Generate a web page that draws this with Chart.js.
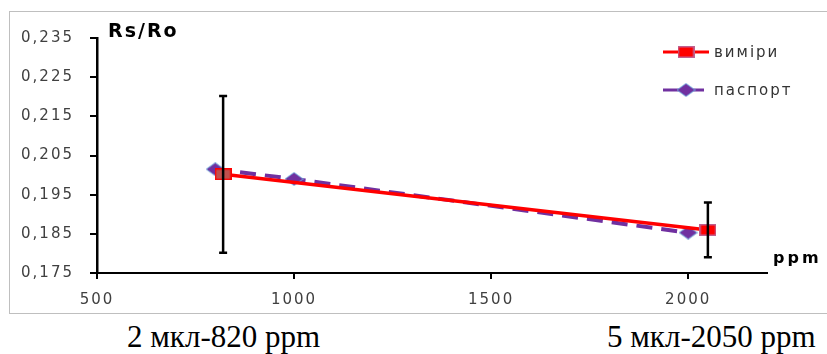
<!DOCTYPE html>
<html lang="uk">
<head>
    <meta charset="UTF-8">
    <title>Rs/Ro — ppm</title>
    <script src="https://cdn.jsdelivr.net/npm/chart.js"></script>
    <style>
        body {
            margin: 0;
            padding: 0;
            background: #fff;
            width: 827px;
            height: 354px;
            overflow: hidden;
            position: relative;
        }

        .frame {
            position: absolute;
            left: 9px;
            top: 11px;
            width: 840px;
            height: 301px;
            border: 1.5px solid #bfbfbf;
        }

        canvas {
            position: absolute;
            left: 0;
            top: 0;
        }

        .caption {
            position: absolute;
            top: 321px;
            font-family: 'Liberation Serif', serif;
            font-size: 31px;
            line-height: 31px;
            color: #000;
            white-space: nowrap;
        }
    </style>
</head>
<body>
    <div class="frame"></div>
    <canvas id="chart" width="827" height="315"></canvas>
    <div class="caption" style="left:127px">2 мкл-820 ppm</div>
    <div class="caption" style="left:607px">5 мкл-2050 ppm</div>

    <script>
        // виміри (measurements) with error bars
        const measX = [820, 2050];
        const measY = [0.2002, 0.186];
        const measErr = [0.02, 0.007];

        // паспорт (datasheet)
        const passX = [800, 1000, 2000];
        const passY = [0.2015, 0.199, 0.1853];

        const xTicks = [500, 1000, 1500, 2000];
        const yTicks = [0.175, 0.185, 0.195, 0.205, 0.215, 0.225, 0.235];

        const seriesNames = ['виміри', 'паспорт'];

        // stretched markers, like in the original picture
        function makeSquare(fill, stroke) {
            const c = document.createElement('canvas');
            c.width = 17; c.height = 12;
            const g = c.getContext('2d');
            g.fillStyle = fill;
            g.fillRect(0, 0, 17, 12);
            g.strokeStyle = stroke;
            g.lineWidth = 1.5;
            g.strokeRect(0.75, 0.75, 15.5, 10.5);
            return c;
        }

        function makeDiamond() {
            const c = document.createElement('canvas');
            c.width = 19; c.height = 14;
            const g = c.getContext('2d');
            g.beginPath();
            g.moveTo(9.5, 0.5);
            g.lineTo(18.5, 7);
            g.lineTo(9.5, 13.5);
            g.lineTo(0.5, 7);
            g.closePath();
            g.fillStyle = '#7030a0';
            g.fill();
            g.strokeStyle = '#6fa8dc';
            g.lineWidth = 1;
            g.stroke();
            return c;
        }

        const sqDark = makeSquare('#c0504d', '#ff0000');
        const sqRed = makeSquare('#ff0000', '#c06090');
        const diamond = makeDiamond();

        const extras = {
            id: 'extras',
            beforeUpdate(chart) {
                chart.ctx.letterSpacing = '2px';
            },
            beforeDraw(chart) {
                chart.ctx.letterSpacing = '2px';
            },
            afterDatasetsDraw(chart) {
                const ctx = chart.ctx;
                const xs = chart.scales.x;
                const ys = chart.scales.y;
                ctx.save();
                ctx.strokeStyle = '#000';
                ctx.lineWidth = 2.5;
                for (let i = 0; i < measX.length; i++) {
                    const px = xs.getPixelForValue(measX[i]);
                    const top = ys.getPixelForValue(measY[i] + measErr[i]);
                    const bot = ys.getPixelForValue(measY[i] - measErr[i]);
                    ctx.beginPath();
                    ctx.moveTo(px, top);
                    ctx.lineTo(px, bot);
                    ctx.moveTo(px - 4, top);
                    ctx.lineTo(px + 4, top);
                    ctx.moveTo(px - 4, bot);
                    ctx.lineTo(px + 4, bot);
                    ctx.stroke();
                }
                ctx.restore();
            },
            afterDraw(chart) {
                const ctx = chart.ctx;
                const area = chart.chartArea;
                const ys = chart.scales.y;
                ctx.save();

                // axis titles
                ctx.fillStyle = '#000';
                ctx.textBaseline = 'alphabetic';
                ctx.letterSpacing = '2px';
                ctx.font = 'bold 19px "DejaVu Sans"';
                ctx.fillText('Rs/Ro', area.left + 11, 37);
                ctx.letterSpacing = '3px';
                ctx.font = 'bold 16px "DejaVu Sans"';
                ctx.fillText('ppm', area.right + 6, ys.getPixelForValue(0.1775));

                // legend
                ctx.letterSpacing = '2px';
                ctx.font = '15px "DejaVu Sans"';
                ctx.textBaseline = 'middle';
                const rows = [52, 90];
                chart.data.datasets.forEach((ds, i) => {
                    const y = rows[i];
                    ctx.save();
                    ctx.strokeStyle = ds.borderColor;
                    ctx.lineWidth = 3;
                    ctx.setLineDash(ds.borderDash || []);
                    ctx.beginPath();
                    ctx.moveTo(663, y);
                    ctx.lineTo(709, y);
                    ctx.stroke();
                    ctx.restore();
                    const m = i === 0 ? sqRed : diamond;
                    ctx.drawImage(m, 686 - m.width / 2, y - m.height / 2);
                    ctx.fillStyle = '#333';
                    ctx.fillText(ds.label, 714, y + 1);
                });
                ctx.restore();
            }
        };

        const ctx = document.getElementById('chart').getContext('2d');

        new Chart(ctx, {
            type: 'line',
            data: {
                datasets: [
                    {
                        label: seriesNames[0],
                        data: measX.map((x, i) => ({ x: x, y: measY[i] })),
                        borderColor: '#ff0000',
                        borderWidth: 3.5,
                        pointStyle: [sqDark, sqRed],
                        pointRadius: 6,
                        fill: false
                    },
                    {
                        label: seriesNames[1],
                        data: passX.map((x, i) => ({ x: x, y: passY[i] })),
                        borderColor: '#7030a0',
                        borderWidth: 4,
                        borderDash: [16, 9],
                        pointStyle: diamond,
                        pointRadius: 6,
                        fill: false
                    }
                ]
            },
            options: {
                responsive: false,
                animation: false,
                devicePixelRatio: 1,
                layout: { padding: { top: 38, right: 60, left: 0, bottom: 0 } },
                plugins: {
                    legend: { display: false },
                    tooltip: { enabled: false }
                },
                scales: {
                    x: {
                        type: 'linear',
                        min: 500,
                        max: 2200,
                        afterBuildTicks: s => { s.ticks = xTicks.map(v => ({ value: v })); },
                        afterFit: s => { s.height = 42; },
                        grid: { drawOnChartArea: false, drawTicks: true, tickLength: 6, color: '#000', lineWidth: 2 },
                        border: { color: '#000', width: 2 },
                        ticks: {
                            padding: 12,
                            color: '#404040',
                            font: { family: 'DejaVu Sans', size: 15 },
                            maxRotation: 0,
                            callback: v => String(v)
                        }
                    },
                    y: {
                        min: 0.175,
                        max: 0.235,
                        afterBuildTicks: s => { s.ticks = yTicks.map(v => ({ value: v })); },
                        afterFit: s => { s.width = 97; },
                        grid: { drawOnChartArea: false, drawTicks: true, tickLength: 7, color: '#000', lineWidth: 2 },
                        border: { color: '#000', width: 2.5 },
                        ticks: {
                            padding: 16,
                            color: '#404040',
                            font: { family: 'DejaVu Sans', size: 15 },
                            callback: v => v.toFixed(3).replace('.', ',')
                        }
                    }
                }
            },
            plugins: [extras]
        });
    </script>
</body>
</html>
